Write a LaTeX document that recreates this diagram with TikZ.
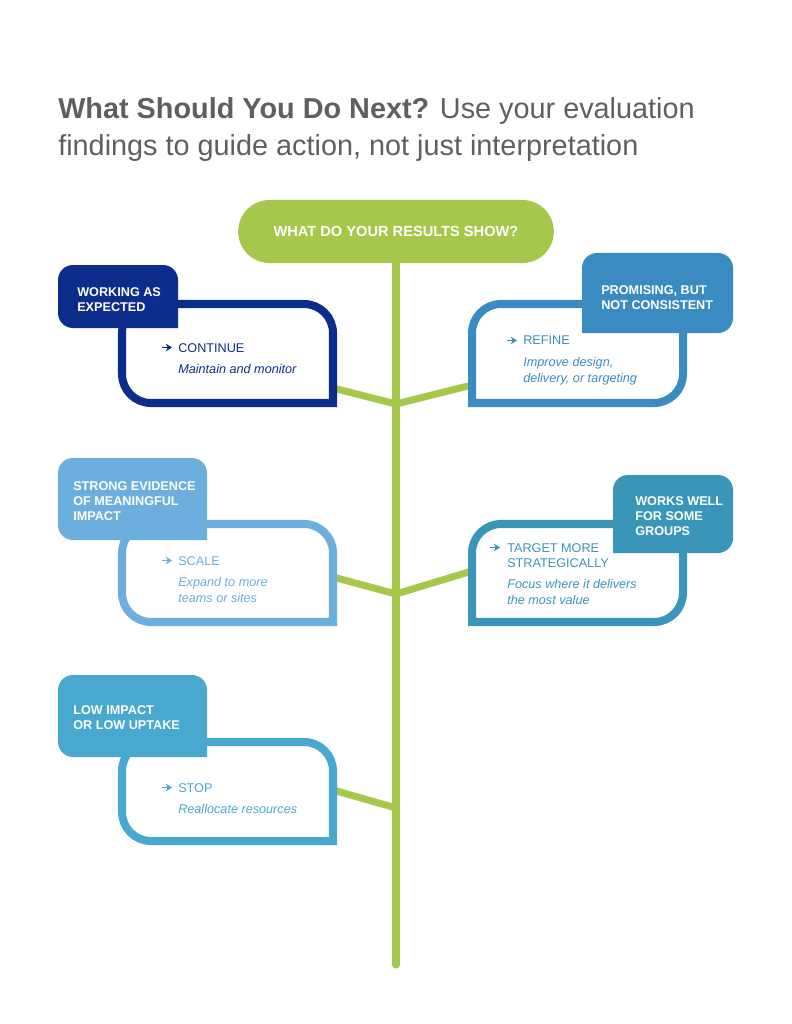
\documentclass[tikz,border=0pt]{standalone}
\usepackage{fontspec}
\setmainfont{Liberation Sans}
\usepackage{tikz}
\usetikzlibrary{arrows.meta, shapes.misc, positioning}
\definecolor{resgreen}{RGB}{165,200,75}
\definecolor{resnavy} {RGB}{ 12, 45,140}
\definecolor{resblue} {RGB}{ 58,139,194}
\definecolor{reslight}{RGB}{108,174,222}
\definecolor{resteal} {RGB}{ 58,150,184}
\definecolor{rescyan} {RGB}{ 72,168,208}
\definecolor{resgray} {RGB}{ 95, 95, 95}

\begin{document}
\begin{tikzpicture}[x=0.025cm, y=0.025cm,
		stem/.style={resgreen, line width=5pt, line cap=round},
		frame/.style={line width=5.7pt, fill=white},
		ask/.style={rounded rectangle, fill=resgreen, text=white, minimum width=8.125cm,
			minimum height=1.575cm, font=\bfseries\fontsize{10.4}{12}\selectfont},
		tagtxt/.style={white, font=\bfseries\fontsize{9}{10.7}\selectfont, align=left,
			anchor=north west, inner sep=0pt},
		acttxt/.style={font=\fontsize{9}{10.7}\selectfont, align=left, anchor=north west, inner sep=0pt},
		notetxt/.style={font=\itshape\fontsize{9}{11.4}\selectfont, align=left, anchor=north west, inner sep=0pt},
		bullet/.style={-{Stealth[length=4.5pt,width=5.5pt]}, line width=1.3pt}
	]
	\fill[white] (0,0) rectangle (791,-1024);
	\useasboundingbox (0,0) rectangle (791,-1024);

	% heading
	\node[anchor=north west, inner sep=0pt, align=left, resgray,
		font=\fontsize{20.5}{26.3}\selectfont] (head) at (58,-97)
		{\textbf{What Should You Do Next?} Use your evaluation\\findings to guide action, not just interpretation};

	% stem and branches
	\node[ask] (ask) at (396,-231.5) {WHAT DO YOUR RESULTS SHOW?};
	\coordinate (root) at (396,-965);
	\coordinate (j1) at (396,-404);
	\coordinate (j2) at (396,-594);
	\coordinate (j3) at (396,-808);
	\coordinate (e1) at (333,-388);
	\coordinate (e2) at (472,-385);
	\coordinate (e3) at (333,-577);
	\coordinate (e4) at (472,-571);
	\coordinate (e5) at (333,-790);
	\draw[stem] (ask.south) -- (root);
	\draw[stem] (e1) -- (j1) -- (e2);
	\draw[stem] (e3) -- (j2) -- (e4);
	\draw[stem] (e5) -- (j3);

	% continue
	\draw[frame, draw=resnavy] (333,-403) -- (151,-403) arc[start angle=270, end angle=180, radius=29]
		-- (122,-333) arc[start angle=180, end angle=90, radius=29]
		-- (304,-304) arc[start angle=90, end angle=0, radius=29] -- cycle;
	\fill[resnavy] (178,-328) -- (73,-328) arc[start angle=270, end angle=180, radius=15]
		-- (58,-280) arc[start angle=180, end angle=90, radius=15]
		-- (163,-265) arc[start angle=90, end angle=0, radius=15] -- cycle;
	\node[tagtxt] (t1) at (77,-287) {WORKING AS\\EXPECTED};
	\node[acttxt, resnavy] (a1) at (178,-343) {CONTINUE};
	\node[notetxt, resnavy] (n1) at (178,-364) {Maintain and monitor};
	\draw[bullet, resnavy] ([shift={(-16,-4.5)}]a1.north west) -- ++(10,0);

	% refine
	\draw[frame, draw=resblue] (472,-403) -- (472,-333) arc[start angle=180, end angle=90, radius=29]
		-- (654,-304) arc[start angle=90, end angle=0, radius=29]
		-- (683,-374) arc[start angle=0, end angle=-90, radius=29] -- cycle;
	\fill[resblue] (582,-333) -- (582,-268) arc[start angle=180, end angle=90, radius=15]
		-- (718,-253) arc[start angle=90, end angle=0, radius=15]
		-- (733,-318) arc[start angle=0, end angle=-90, radius=15] -- cycle;
	\node[tagtxt] (t2) at (601,-285) {PROMISING, BUT\\NOT CONSISTENT};
	\node[acttxt, resblue] (a2) at (523,-336) {REFINE};
	\node[notetxt, resblue] (n2) at (523,-357) {Improve design,\\delivery, or targeting};
	\draw[bullet, resblue] ([shift={(-16,-4.5)}]a2.north west) -- ++(10,0);

	% scale
	\draw[frame, draw=reslight] (333,-622) -- (151,-622) arc[start angle=270, end angle=180, radius=29]
		-- (122,-553) arc[start angle=180, end angle=90, radius=29]
		-- (304,-524) arc[start angle=90, end angle=0, radius=29] -- cycle;
	\fill[reslight] (207,-540) -- (73,-540) arc[start angle=270, end angle=180, radius=15]
		-- (58,-473) arc[start angle=180, end angle=90, radius=15]
		-- (192,-458) arc[start angle=90, end angle=0, radius=15] -- cycle;
	\node[tagtxt] (t3) at (73,-481) {STRONG EVIDENCE\\OF MEANINGFUL\\IMPACT};
	\node[acttxt, reslight] (a3) at (178,-556) {SCALE};
	\node[notetxt, reslight] (n3) at (178,-577) {Expand to more\\teams or sites};
	\draw[bullet, reslight] ([shift={(-16,-4.5)}]a3.north west) -- ++(10,0);

	% target
	\draw[frame, draw=resteal] (472,-622) -- (472,-553) arc[start angle=180, end angle=90, radius=29]
		-- (654,-524) arc[start angle=90, end angle=0, radius=29]
		-- (683,-593) arc[start angle=0, end angle=-90, radius=29] -- cycle;
	\fill[resteal] (613,-553) -- (613,-490) arc[start angle=180, end angle=90, radius=15]
		-- (718,-475) arc[start angle=90, end angle=0, radius=15]
		-- (733,-538) arc[start angle=0, end angle=-90, radius=15] -- cycle;
	\node[tagtxt] (t4) at (635,-496) {WORKS WELL\\FOR SOME\\GROUPS};
	\node[acttxt, resteal] (a4) at (507,-543) {TARGET MORE\\STRATEGICALLY};
	\node[notetxt, resteal] (n4) at (507,-579) {Focus where it delivers\\the most value};
	\draw[bullet, resteal] ([shift={(-17,-4.5)}]a4.north west) -- ++(10,0);

	% stop
	\draw[frame, draw=rescyan] (333,-841) -- (151,-841) arc[start angle=270, end angle=180, radius=29]
		-- (122,-771) arc[start angle=180, end angle=90, radius=29]
		-- (304,-742) arc[start angle=90, end angle=0, radius=29] -- cycle;
	\fill[rescyan] (207,-757) -- (73,-757) arc[start angle=270, end angle=180, radius=15]
		-- (58,-690) arc[start angle=180, end angle=90, radius=15]
		-- (192,-675) arc[start angle=90, end angle=0, radius=15] -- cycle;
	\node[tagtxt] (t5) at (73,-705) {LOW IMPACT\\OR LOW UPTAKE};
	\node[acttxt, rescyan] (a5) at (178,-783) {STOP};
	\node[notetxt, rescyan] (n5) at (178,-804) {Reallocate resources};
	\draw[bullet, rescyan] ([shift={(-16,-4.5)}]a5.north west) -- ++(10,0);
\end{tikzpicture}
\end{document}
